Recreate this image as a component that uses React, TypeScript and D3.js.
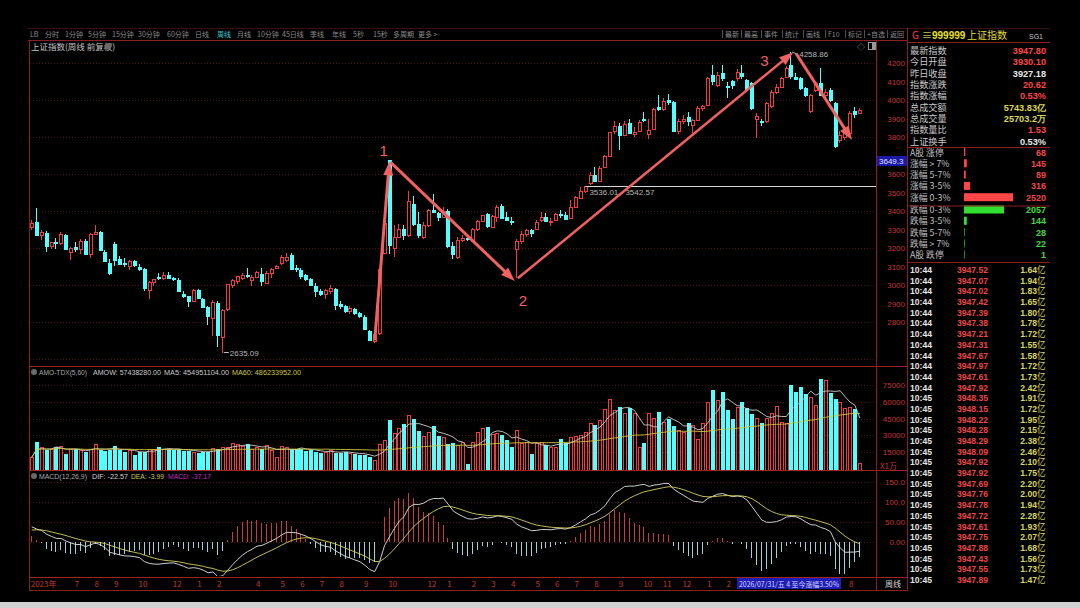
import React from 'react'
import * as d3 from 'd3'

// weekly candles of 上证指数: [open, close, high, low]
const candles: [number, number, number, number][] = [
  [3312, 3336, 3352, 3300], [3340, 3272, 3418, 3268], [3270, 3284, 3300, 3244], [3283, 3212, 3290, 3176],
  [3210, 3230, 3232, 3195], [3233, 3228, 3256, 3192], [3226, 3273, 3288, 3214], [3270, 3197, 3274, 3192],
  [3178, 3202, 3206, 3137], [3205, 3197, 3233, 3180], [3194, 3237, 3247, 3170], [3240, 3168, 3246, 3160],
  [3165, 3276, 3280, 3146], [3275, 3288, 3322, 3270], [3287, 3189, 3294, 3186], [3180, 3132, 3190, 3123],
  [3121, 3064, 3140, 3053], [3219, 3133, 3232, 3101], [3142, 3116, 3158, 3109], [3119, 3117, 3144, 3099],
  [3105, 3128, 3135, 3082], [3130, 3110, 3134, 3100], [3100, 3088, 3115, 3077], [3088, 2983, 3090, 2969],
  [2975, 3017, 3020, 2923], [3016, 3030, 3034, 2996], [3045, 3038, 3064, 3026], [3040, 3054, 3070, 3027],
  [3055, 3040, 3069, 3035], [3040, 3031, 3045, 3022], [3027, 2969, 3037, 2961], [2952, 2942, 2970, 2932],
  [2940, 2914, 2943, 2882], [2912, 2975, 2976, 2906], [2972, 2929, 2976, 2924], [2925, 2881, 2932, 2875],
  [2880, 2832, 2888, 2786], [2820, 2910, 2918, 2724], [2905, 2730, 2915, 2666], [2718, 2866, 2870, 2635.09],
  [2870, 3004, 3004, 2862], [3002, 3027, 3030, 2984], [3022, 3046, 3051, 3006], [3040, 3055, 3063, 3025],
  [3056, 3048, 3090, 3040], [3028, 3041, 3055, 2993], [3044, 3069, 3075, 3040], [3060, 3019, 3090, 2995],
  [3010, 3065, 3078, 3007], [3065, 3088, 3092, 3037], [3090, 3105, 3110, 3084], [3120, 3154, 3163, 3108],
  [3135, 3154, 3174, 3126], [3160, 3089, 3174, 3084], [3090, 3087, 3107, 3071], [3082, 3051, 3092, 3035],
  [3052, 3032, 3057, 3022], [3033, 2998, 3040, 2995], [2994, 2967, 3011, 2933], [2967, 2949, 2976, 2943],
  [2950, 2971, 2976, 2922], [2970, 2982, 2998, 2950], [2980, 2890, 2985, 2865], [2900, 2886, 2915, 2872],
  [2884, 2862, 2891, 2851], [2857, 2874, 2886, 2845], [2868, 2849, 2875, 2838], [2847, 2834, 2856, 2820],
  [2829, 2762, 2836, 2757], [2750, 2704, 2757, 2698], [2700, 2733, 2745, 2689], [2741, 3088, 3088, 2730],
  [3175, 3336, 3358, 3174], [3674, 3217, 3674, 3165], [3200, 3261, 3324, 3152], [3262, 3300, 3330, 3260],
  [3300, 3272, 3323, 3245], [3271, 3452, 3509, 3260], [3440, 3331, 3480, 3320], [3330, 3268, 3394, 3253],
  [3260, 3326, 3340, 3246], [3327, 3404, 3410, 3316], [3405, 3392, 3494, 3390], [3390, 3368, 3397, 3345],
  [3365, 3400, 3424, 3360], [3400, 3211, 3410, 3200], [3210, 3169, 3230, 3140], [3150, 3241, 3260, 3140],
  [3245, 3253, 3268, 3230], [3253, 3251, 3255, 3240], [3238, 3303, 3310, 3230], [3300, 3347, 3350, 3290],
  [3346, 3379, 3380, 3345], [3383, 3321, 3390, 3310], [3315, 3373, 3380, 3310], [3370, 3419, 3430, 3340],
  [3425, 3364, 3440, 3360], [3365, 3352, 3392, 3347], [3345, 3342, 3367, 3322], [3193, 3238, 3250, 3040],
  [3240, 3277, 3290, 3220], [3278, 3296, 3305, 3260], [3295, 3279, 3305, 3262], [3300, 3342, 3352, 3295],
  [3352, 3367, 3392, 3340], [3365, 3348, 3390, 3340], [3345, 3347, 3361, 3320], [3350, 3385, 3390, 3345],
  [3385, 3377, 3404, 3360], [3380, 3359, 3394, 3350], [3360, 3424, 3460, 3355], [3422, 3473, 3480, 3420],
  [3472, 3510, 3530, 3465], [3510, 3534, 3536.01, 3495], [3550, 3594, 3613, 3542.57], [3595, 3560, 3636, 3555],
  [3560, 3635, 3645, 3555], [3640, 3697, 3704, 3635], [3700, 3825, 3825, 3690], [3830, 3858, 3888, 3815],
  [3860, 3812, 3875, 3730], [3810, 3871, 3885, 3805], [3875, 3820, 3899, 3815], [3815, 3828, 3856, 3800],
  [3830, 3883, 3890, 3825], [3900, 3897, 3937, 3880], [3815, 3839, 3900, 3790], [3845, 3950, 3955, 3840],
  [3960, 3954, 4025, 3940], [3950, 3997, 4010, 3940], [4000, 3990, 4035, 3975], [3990, 3835, 3995, 3830],
  [3835, 3888, 3895, 3815], [3889, 3897, 3920, 3870], [3906, 3889, 3936, 3860], [3866, 3890, 3900, 3820],
  [3893, 3956, 3965, 3885], [3958, 3966, 3975, 3940], [3975, 4120, 4125, 3970], [4135, 4102, 4190, 4080],
  [4082, 4135, 4150, 4070], [4145, 4118, 4190, 4105], [4078, 4070, 4095, 4010], [4100, 4082, 4110, 4060],
  [4117, 4153, 4165, 4105], [4145, 4128, 4190, 4115], [4108, 4060, 4115, 4050], [4090, 3955, 4100, 3945],
  [3900, 3912, 3930, 3793], [3885, 3880, 3900, 3860], [3884, 3982, 3990, 3878], [3965, 4045, 4055, 3955],
  [4045, 4072, 4085, 4035], [4072, 4117, 4125, 4065], [4126, 4171, 4185, 4120], [4190, 4128, 4258.86, 4115],
  [4122, 4115, 4145, 4108], [4117, 4063, 4125, 4055], [4063, 4027, 4070, 4015], [3940, 4025, 4035, 3930],
  [4055, 4090, 4100, 4045], [4090, 4027, 4171, 4020], [4025, 4045, 4060, 4000], [4054, 4000, 4065, 3990],
  [3985, 3750, 3990, 3738], [3785, 3812, 3830, 3770], [3800, 3822, 3835, 3785], [3820, 3930, 3940, 3805],
  [3940, 3925, 3962, 3905], [3930.1, 3947.8, 3955, 3925],
]

// weekly turnover, x1万
const amount = [
  10400, 24400, 19300, 16900, 18300, 19300, 20500, 13400, 17600, 18300, 16900, 15200, 17600, 22300, 16900, 16400,
  16900, 20500, 16900, 15500, 16900, 12500, 15500, 15500, 18300, 17600, 19900, 17600, 17900, 16900, 17600, 16400,
  16400, 15500, 14000, 15500, 15500, 19000, 17600, 19300, 19900, 22900, 22300, 20500, 22000, 18300, 19300, 18300,
  21400, 16900, 10900, 20500, 19300, 18300, 17600, 18300, 16400, 16900, 15500, 14000, 15500, 16900, 14600, 14000,
  15500, 14000, 13400, 12500, 12500, 11000, 8000, 22300, 26000, 43700, 32400, 36300, 40200, 48200, 44300, 33900,
  29500, 33300, 38400, 29500, 28900, 22300, 23500, 21000, 24400, 4400, 24000, 33300, 36300, 37800, 31000, 32000,
  30400, 25900, 19300, 34800, 22900, 24400, 13400, 22900, 24400, 21400, 19900, 19300, 26500, 22900, 28300, 29500,
  30400, 33300, 40800, 39300, 43700, 53300, 62200, 52700, 55600, 49700, 54100, 49700, 19300, 23500, 50300, 45200,
  50600, 42200, 44300, 38400, 34800, 33300, 40800, 39300, 26500, 40800, 59500, 70800, 61600, 68800, 52400, 44300,
  55600, 59800, 54100, 48700, 45200, 41300, 45200, 49700, 56200, 42200, 40800, 75000, 68800, 72800, 67000, 63900,
  56800, 80400, 79500, 67600, 62200, 59500, 54100, 55600, 53300, 5100,
]

const monthTickIndex = [0, 9, 13, 17, 22, 29, 34, 38, 46, 51, 55, 59, 63, 68, 73, 81, 85, 90, 94, 98, 103, 107, 111, 115, 120, 125, 129, 133, 138, 142, 167]
const monthTickText = ['2023年', '7', '8', '9', '10', '12', '1', '2', '4', '5', '6', '7', '8', '9', '10', '12', '1', '2', '3', '4', '5', '6', '7', '8', '9', '10', '11', '12', '1', '2', '8']

// 3700 sits under the blue price marker in the reference
const priceTicks = [4200, 4100, 4000, 3900, 3800, 3600, 3500, 3400, 3300, 3200, 3100, 3000, 2900, 2800]
const priceGrid = [4200, 4000, 3800, 3600, 3400, 3200, 3000, 2800, 2600]
const volTicks = [75000, 60000, 45000, 30000, 15000]
const macdTicks = [150, 100, 50, 0]
const macdTickText = ['150.0', '100.0', '50.00', '0.00']
// EMA12 / EMA26 / DEA state before the first week
const macdSeed = [3300, 3262, 28]

const menuLeft = ['LB', '分时', '1分钟', '5分钟', '15分钟', '30分钟', '60分钟', '日线', '周线', '月线', '10分钟', '45日线', '季线', '年线', '5秒', '15秒', '多周期', '更多 >']
const menuRight = ['最新', '最高', '事件', '统计', '画线', 'F10', '标记', '+自选', '返回']

const volHeader = ['AMO-TDX(5,60)', 'AMOW: 57438280.00', 'MA5: 454951104.00', 'MA60: 486233952.00']
const macdHeader = ['MACD(12,26,9)', 'DIF: -22.57', 'DEA: -3.99', 'MACD: -37.17']

const quoteNames = ['最新指数', '今日开盘', '昨日收盘', '指数涨跌', '指数涨幅', '总成交额', '总成交量', '指数量比', '上证换手']
const quoteValues = ['3947.80', '3930.10', '3927.18', '20.62', '0.53%', '5743.83亿', '25703.2万', '1.53', '0.53%']
const quoteTone = ['up', 'up', 'flat', 'up', 'up', 'amt', 'amt', 'up', 'flat']

const breadthNames = ['A股 涨停', '涨幅 > 7%', '涨幅 5-7%', '涨幅 3-5%', '涨幅 0-3%', '跌幅 0-3%', '跌幅 3-5%', '跌幅 5-7%', '跌幅 > 7%', 'A股 跌停']
const breadthCounts = [68, 145, 89, 316, 2520, 2057, 144, 28, 22, 1]

const tradeTimes = ['10:44', '10:44', '10:44', '10:44', '10:44', '10:44', '10:44', '10:44', '10:44', '10:44', '10:44', '10:44',
  '10:45', '10:45', '10:45', '10:45', '10:45', '10:45', '10:45', '10:45', '10:45', '10:45', '10:45', '10:45', '10:45', '10:45', '10:45', '10:45', '10:45', '10:45']
const tradePrices = ['3947.52', '3947.07', '3947.02', '3947.42', '3947.39', '3947.38', '3947.21', '3947.31', '3947.67', '3947.97', '3947.61', '3947.92',
  '3948.35', '3948.15', '3948.22', '3948.28', '3948.29', '3948.09', '3947.92', '3947.92', '3947.69', '3947.76', '3947.78', '3947.72', '3947.61', '3947.75', '3947.88', '3947.43', '3947.55', '3947.89']
const tradeAmounts = ['1.64', '1.94', '1.83', '1.65', '1.80', '1.78', '1.72', '1.55', '1.58', '1.72', '1.73', '2.42',
  '1.91', '1.72', '1.95', '2.15', '2.38', '2.46', '2.10', '1.75', '2.20', '2.00', '1.94', '2.28', '1.93', '2.07', '1.68', '1.56', '1.73', '1.47']

const RED = '#f03c3c'
const CYAN = '#54ffff'
const FRAME = '#8c1e1e'
const GRID = '#4a1414'
const AXIS = '#c23434'
const ANNO = '#f06262'
const FONT = "'Liberation Sans', Arial, sans-serif"
const CJK = "'Noto Sans CJK SC', 'Liberation Sans', sans-serif"

const Arrow = ({ x1, y1, x2, y2, w, head }: { x1: number; y1: number; x2: number; y2: number; w: number; head: number }) => {
  const len = Math.hypot(x2 - x1, y2 - y1)
  const ux = (x2 - x1) / len
  const uy = (y2 - y1) / len
  const bx = x2 - ux * head
  const by = y2 - uy * head
  const hw = head * 0.36
  const pts = [[x2, y2], [bx - uy * hw, by + ux * hw], [bx + uy * hw, by - ux * hw]]
  return (
    <g>
      <line x1={x1} y1={y1} x2={bx + ux * 2} y2={by + uy * 2} stroke={ANNO} strokeWidth={w} />
      <polygon points={pts.map(p => p.join(',')).join(' ')} fill={ANNO} />
    </g>
  )
}

export default function App() {
  const N = candles.length
  const x = d3.scaleBand<number>().domain(d3.range(N)).range([29.25, 862.25]).paddingInner(0.3).paddingOuter(0.15)
  const left = (i: number) => Math.round(x(i) ?? 0)
  const cx = (i: number) => (x(i) ?? 0) + x.bandwidth() / 2
  const yP = d3.scaleLinear().domain([2800, 4200]).range([322, 63])
  const yV = d3.scaleLinear().domain([0, 75000]).range([469, 385])
  const yM = d3.scaleLinear().domain([0, 150]).range([542, 482])

  // MACD(12,26,9)
  let [e12, e26, dea] = macdSeed
  const dif: number[] = []
  const deaS: number[] = []
  const hist: number[] = []
  candles.forEach(([, c]) => {
    e12 = (2 * c + 11 * e12) / 13
    e26 = (2 * c + 25 * e26) / 27
    const d = e12 - e26
    dea = (2 * d + 8 * dea) / 10
    dif.push(d)
    deaS.push(dea)
    hist.push(2 * (d - dea))
  })

  const ma = (n: number) => amount.map((_, i) => d3.mean(amount.slice(Math.max(0, i - n + 1), i + 1)) as number)
  const ma5 = ma(5)
  const ma60 = ma(60)

  const lineV = d3.line<number>().x((_, i) => cx(i)).y(v => yV(v))
  const lineM = d3.line<number>().x((_, i) => cx(i)).y(v => yM(v))

  const barScale = d3.scaleLinear().domain([0, 2520]).range([0, 49])

  const peak = 155
  const low = 39

  // header strips of the two lower panels
  const headX = [39, 93, 164, 232]
  const headW = [48, 68, 65, 69]
  const volCol = ['#a8a8a8', '#c8c8c8', '#c8c8c8', '#d0c840']
  const macdX = [39, 92, 131, 168]
  const macdW = [48, 36, 33, 43]
  const macdCol = ['#a8a8a8', '#d0d0d0', '#d0c840', '#c828c8']

  return (
    <svg width={1080} height={608} style={{ position: 'fixed', left: 0, top: 0, background: '#000' }}>
      <defs>
        <clipPath id="cMain"><rect x={30} y={41} width={846} height={324} /></clipPath>
        <clipPath id="cVol"><rect x={30} y={378} width={846} height={92} /></clipPath>
        <clipPath id="cMacd"><rect x={30} y={479} width={846} height={97} /></clipPath>
      </defs>
      <rect width={1080} height={608} fill="#000" />
      <rect x={0} y={602} width={1080} height={6} fill="#d2d2d2" />

      {/* toolbar */}
      <line x1={28} x2={1050} y1={28.5} y2={28.5} stroke="#3a1010" />
      <line x1={28} x2={907} y1={40.5} y2={40.5} stroke={FRAME} />
      {menuLeft.map((m, i) => {
        const xs = [30, 45, 65, 88, 112, 138, 167, 195, 217, 237, 257, 282, 310, 332, 353, 373, 393, 418]
        return (
          <text key={m + i} x={xs[i]} y={36.5} fontSize={7} fontFamily={CJK} fill={m === '周线' ? '#3cc8d0' : '#8a8a8a'}>{m}</text>
        )
      })}
      {menuRight.map((m, i) => {
        const xs = [725, 744, 764, 785, 806, 828, 848, 867, 890]
        return (
          <g key={m}>
            <line x1={xs[i] - 2.5} x2={xs[i] - 2.5} y1={30} y2={38} stroke="#505050" />
            <text x={xs[i]} y={36.5} fontSize={7} fontFamily={CJK} fill="#8a8a8a">{m}</text>
          </g>
        )
      })}

      {/* frames */}
      <line x1={29.5} x2={29.5} y1={40} y2={591} stroke={FRAME} />
      <line x1={876.5} x2={876.5} y1={40} y2={591} stroke={FRAME} />
      <line x1={907.5} x2={907.5} y1={28} y2={591} stroke={FRAME} />
      <line x1={29} x2={907} y1={366.5} y2={366.5} stroke="#a02424" />
      <line x1={29} x2={907} y1={470.5} y2={470.5} stroke="#a02424" />
      <line x1={29} x2={907} y1={577.5} y2={577.5} stroke="#a02424" />
      <line x1={29} x2={907} y1={590.5} y2={590.5} stroke={FRAME} />

      {/* main panel */}
      <text x={31} y={49.5} fontSize={8.5} fontFamily={CJK} fill="#c4c4c4">上证指数(周线 前复权)</text>
      <circle cx={108} cy={46.5} r={3.3} fill="#6a6a6a" />
      <text x={857} y={50} fontSize={8} fill="#9a9a9a" fontFamily={CJK}>◇</text>
      <rect x={868.5} y={42.5} width={7} height={7} fill="none" stroke="#9a9a9a" />
      <rect x={872} y={43} width={3} height={6} fill="#9a9a9a" />
      {priceGrid.map(p => (
        <line key={p} x1={30} x2={876} y1={Math.round(yP(p)) + 0.5} y2={Math.round(yP(p)) + 0.5} stroke={GRID} strokeDasharray="1 2" />
      ))}
      {priceTicks.map(p => (
        <text key={p} x={905} y={yP(p) + 3} textAnchor="end" fontSize={8} fontFamily={FONT} fill={AXIS}>{p}</text>
      ))}
      <g clipPath="url(#cMain)" shapeRendering="crispEdges">
        {candles.map(([o, c, h, l], i) => {
          const up = c >= o
          const top = Math.round(yP(Math.max(o, c)))
          const bot = Math.max(top + 1, Math.round(yP(Math.min(o, c))))
          const lx = left(i)
          const wx = lx + 1.5
          if (up) {
            return (
              <g key={i} stroke={RED} fill="none">
                <line x1={wx} x2={wx} y1={yP(h)} y2={top} />
                <line x1={wx} x2={wx} y1={bot} y2={yP(l)} />
                <rect x={lx + 0.5} y={top + 0.5} width={3} height={bot - top} fill="#000" />
              </g>
            )
          }
          return (
            <g key={i}>
              <line x1={wx} x2={wx} y1={yP(h)} y2={yP(l)} stroke={CYAN} />
              <rect x={lx} y={top} width={4} height={bot - top + 1} fill={CYAN} />
            </g>
          )
        })}
      </g>
      {/* gap marker */}
      <line x1={cx(113)} x2={876} y1={Math.round(yP(3536.01)) + 0.5} y2={Math.round(yP(3536.01)) + 0.5} stroke="#d8d8d8" />
      <text x={cx(113) + 4} y={yP(3536.01) + 9.5} fontSize={8} fontFamily={FONT} fill="#b8b8b8">3536.01 - 3542.57</text>
      {/* extreme labels */}
      <line x1={cx(low) + 1} x2={cx(low) + 6} y1={yP(2635.09)} y2={yP(2635.09)} stroke="#b8b8b8" />
      <text x={cx(low) + 7} y={yP(2635.09) + 3} fontSize={8} fontFamily={FONT} fill="#b8b8b8">2635.09</text>
      <line x1={cx(peak) + 1} x2={cx(peak) + 6} y1={yP(4258.86)} y2={yP(4258.86) + 2} stroke="#b8b8b8" />
      <text x={cx(peak) + 8} y={yP(4258.86) + 5} fontSize={8} fontFamily={FONT} fill="#b8b8b8">4258.86</text>

      {/* annotations */}
      <Arrow x1={cx(70)} y1={yP(2700)} x2={cx(73)} y2={yP(3668)} w={3} head={14} />
      <Arrow x1={cx(73) + 1} y1={yP(3664)} x2={cx(99) - 2} y2={yP(3022)} w={3} head={14} />
      <Arrow x1={cx(99) + 1} y1={yP(3036)} x2={cx(peak) + 2} y2={yP(4258)} w={2.5} head={14} />
      <Arrow x1={cx(peak) + 5} y1={yP(4250)} x2={cx(167) + 2} y2={yP(3784)} w={3} head={14} />
      <text x={cx(73) - 10} y={yP(3668) - 5} fontSize={15} fontFamily={FONT} fill={ANNO}>1</text>
      <text x={cx(99) + 2} y={yP(3022) + 25} fontSize={15} fontFamily={FONT} fill={ANNO}>2</text>
      <text x={cx(peak) - 31} y={yP(4258) + 14} fontSize={15} fontFamily={FONT} fill={ANNO}>3</text>

      <rect x={877} y={Math.round(yP(3649.3)) - 9} width={30} height={10} fill="#1a1aa8" />
      <text x={879} y={yP(3649.3) - 1} fontSize={8} fontFamily={FONT} fill="#e0e0ff">3649.3</text>

      {/* volume panel */}
      <circle cx={34} cy={372} r={3} fill="#6a6a6a" />
      {volHeader.map((t, i) => (
        <text key={t} x={headX[i]} y={375} fontSize={7} fontFamily={FONT} fill={volCol[i]} textLength={headW[i]} lengthAdjust="spacingAndGlyphs">{t}</text>
      ))}
      {volTicks.map(v => (
        <g key={v}>
          <line x1={30} x2={876} y1={Math.round(yV(v)) + 0.5} y2={Math.round(yV(v)) + 0.5} stroke={GRID} strokeDasharray="1 2" />
          <text x={905} y={yV(v) + 3} textAnchor="end" fontSize={8} fontFamily={FONT} fill={AXIS}>{v}</text>
        </g>
      ))}
      <text x={880} y={469} fontSize={8} fontFamily={CJK} fill={AXIS}>X1万</text>
      <g clipPath="url(#cVol)" shapeRendering="crispEdges">
        {amount.map((v, i) => {
          const [o, c] = candles[i]
          const top = Math.round(yV(v))
          const lx = left(i)
          return c >= o
            ? <rect key={i} x={lx + 0.5} y={top + 0.5} width={3} height={470 - top} fill="none" stroke={RED} />
            : <rect key={i} x={lx} y={top} width={4} height={470 - top} fill={CYAN} />
        })}
      </g>
      <g clipPath="url(#cVol)">
        <path d={lineV(ma5) ?? ''} fill="none" stroke="#d0d0d0" strokeWidth={0.9} />
        <path d={lineV(ma60) ?? ''} fill="none" stroke="#d0c840" strokeWidth={0.9} />
      </g>

      {/* MACD panel */}
      <circle cx={34} cy={476} r={3} fill="#6a6a6a" />
      {macdHeader.map((t, i) => (
        <text key={t} x={macdX[i]} y={479} fontSize={7} fontFamily={FONT} fill={macdCol[i]} textLength={macdW[i]} lengthAdjust="spacingAndGlyphs">{t}</text>
      ))}
      {macdTicks.map((m, i) => (
        <g key={m}>
          <line x1={30} x2={876} y1={Math.round(yM(m)) + 0.5} y2={Math.round(yM(m)) + 0.5} stroke={GRID} strokeDasharray="1 2" />
          <text x={905} y={yM(m) + 3} textAnchor="end" fontSize={8} fontFamily={FONT} fill={AXIS}>{macdTickText[i]}</text>
        </g>
      ))}
      <g clipPath="url(#cMacd)" shapeRendering="crispEdges">
        {hist.map((m, i) => (
          <line key={i} x1={left(i) + 1.5} x2={left(i) + 1.5} y1={yM(0)} y2={yM(m)} stroke={m >= 0 ? '#c83c3c' : '#9ed2da'} />
        ))}
      </g>
      <g clipPath="url(#cMacd)">
        <path d={lineM(dif) ?? ''} fill="none" stroke="#e4e4e4" strokeWidth={0.9} />
        <path d={lineM(deaS) ?? ''} fill="none" stroke="#d8d060" strokeWidth={0.9} />
      </g>

      {/* date axis */}
      {monthTickIndex.map((ti, i) => (
        <text key={i} x={cx(ti) - 1} y={586.5} fontSize={8} fontFamily={CJK} fill={AXIS}>{monthTickText[i]}</text>
      ))}
      <rect x={737} y={578} width={104} height={11} fill="#1e1eb4" />
      <text x={739} y={586.5} fontSize={7} fontFamily={CJK} fill="#d4d4ff" textLength={100} lengthAdjust="spacingAndGlyphs">2026/07/31/五 4 至今涨幅3.50%</text>
      <text x={885} y={586.5} fontSize={8} fontFamily={CJK} fill="#d8d8d8">周线</text>

      {/* quote panel */}
      <text x={912} y={39} fontFamily={CJK} fontSize={10} fill="#ff4040">G</text>
      <text x={922} y={39} fontFamily={CJK} fontSize={10} fill="#c8c050">≡</text>
      <text x={932} y={39} fontFamily={FONT} fontSize={10} fontWeight="bold" fill="#e8e020">999999</text>
      <text x={967} y={39} fontFamily={CJK} fontSize={10} fill="#e0d830">上证指数</text>
      <text x={1029} y={38.5} fontSize={7} fontFamily={FONT} fill="#c8c8c8">SG1</text>
      <line x1={907} x2={1050} y1={42.5} y2={42.5} stroke={FRAME} />
      {quoteNames.map((n, i) => {
        const yy = 54 + i * 11.35
        const tone = quoteTone[i]
        const col = tone === 'up' ? '#ff4646' : tone === 'amt' ? '#dcd45a' : '#e8e8e8'
        return (
          <g key={n}>
            <text x={910} y={yy} fontSize={9.2} fontFamily={CJK} fill="#c8c8c8">{n}</text>
            <text x={1046} y={yy} textAnchor="end" fontSize={9.2} fontWeight="bold" fontFamily={FONT} fill={col}>{quoteValues[i]}</text>
          </g>
        )
      })}
      <line x1={907} x2={1050} y1={147.5} y2={147.5} stroke={FRAME} />
      {breadthNames.map((n, i) => {
        const yy = 155.5 + i * 11.3 + (i >= 5 ? 1 : 0)
        const isUp = i < 5
        const col = isUp ? '#ff4646' : '#30e030'
        const w = Math.max(1, barScale(breadthCounts[i]))
        return (
          <g key={n}>
            <text x={910} y={yy} fontSize={8.8} fontFamily={CJK} fill="#c0c0c0">{n}</text>
            <rect x={964} y={yy - 7.5} width={w} height={8} fill={breadthCounts[i] < 50 ? (isUp ? '#a02020' : '#1c8c1c') : col} />
            <text x={1046} y={yy} textAnchor="end" fontSize={9} fontWeight="bold" fontFamily={FONT} fill={isUp ? '#f04848' : '#40d840'}>{breadthCounts[i]}</text>
          </g>
        )
      })}
      <line x1={907} x2={1050} y1={206} y2={206} stroke={FRAME} />
      <line x1={907} x2={1050} y1={262.5} y2={262.5} stroke={FRAME} />
      {tradeTimes.map((t, i) => {
        const yy = 273 + i * 10.69
        return (
          <g key={i} fontSize={8.6} fontWeight="bold" fontFamily={FONT}>
            <text x={910} y={yy} fill="#e4e4e4">{t}</text>
            <text x={988} y={yy} textAnchor="end" fill="#e84848">{tradePrices[i]}</text>
            <text x={1037} y={yy} textAnchor="end" fill="#d8d460">{tradeAmounts[i]}</text>
            <text x={1037} y={yy} fontWeight="normal" fontFamily={CJK} fill="#d8d460">亿</text>
          </g>
        )
      })}
    </svg>
  )
}
